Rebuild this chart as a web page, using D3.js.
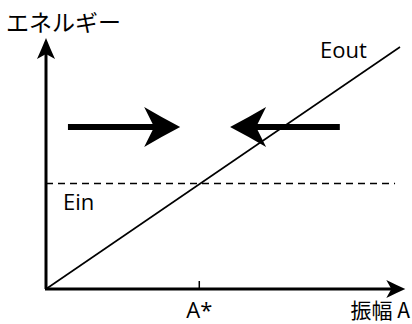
<!DOCTYPE html>
<html>
<head>
<meta charset="utf-8">
<script src="https://cdn.jsdelivr.net/npm/d3@7"></script>
<style>
  body { margin: 0; background: #fff; }
  text { font-family: "Open Sans", "Noto Sans", sans-serif; fill: #000; }
  .jp { font-family: "Noto Sans CJK JP", sans-serif; }
</style>
</head>
<body>
<div id="chart"></div>
<script>
// amplitude / energy values in arbitrary units
var eoutLine = [[0, 0], [10, 10]];
var einLevel = 4.36;
var einExtent = [0, 9.86];
var aStar = 4.33;
var flowArrows = [
  { from: 0.62, to: 3.79, level: 6.69 },
  { from: 8.3, to: 5.2, level: 6.69 }
];
var axisMax = { x: 10.15, y: 10.37 };

var width = 412,
    height = 324,
    x = d3.scaleLinear().domain([0, 10]).range([46, 400]),
    y = d3.scaleLinear().domain([0, 10]).range([289, 47]),
    svg = d3.select('#chart').append('svg').attr('width', width).attr('height', height);

// axes
svg.append('line')
  .attr('x1', x(0)).attr('y1', y(0)).attr('x2', x(0)).attr('y2', y(axisMax.y) + 10)
  .attr('stroke', '#000').attr('stroke-width', 3);
svg.append('line')
  .attr('x1', x(0) - 1).attr('y1', y(0)).attr('x2', x(axisMax.x) - 8).attr('y2', y(0))
  .attr('stroke', '#000').attr('stroke-width', 3);

// arrowheads, swept back with slightly curved edges
function head(tx, ty, angle, len, half, notch) {
  var c = Math.cos(angle), s = Math.sin(angle);
  function t(d) { return [tx + d[0] * c - d[1] * s, ty + d[0] * s + d[1] * c]; }
  var p = d3.path(), q;
  q = t([0, 0]); p.moveTo(q[0], q[1]);
  var c1 = t([-len * 0.5, -half * 0.47]), b1 = t([-len, -half]);
  p.quadraticCurveTo(c1[0], c1[1], b1[0], b1[1]);
  var c2 = t([-len + notch * 0.6, -half * 0.4]), n = t([-len + notch, 0]);
  p.quadraticCurveTo(c2[0], c2[1], n[0], n[1]);
  var c3 = t([-len + notch * 0.6, half * 0.4]), b2 = t([-len, half]);
  p.quadraticCurveTo(c3[0], c3[1], b2[0], b2[1]);
  var c4 = t([-len * 0.5, half * 0.47]);
  p.quadraticCurveTo(c4[0], c4[1], tx, ty);
  p.closePath();
  return p.toString();
}
svg.append('path')
  .attr('d', head(x(0), y(axisMax.y), -Math.PI / 2, 21, 9, 5))
  .attr('fill', '#000');
svg.append('path')
  .attr('d', head(x(axisMax.x), y(0), 0, 19, 9, 5))
  .attr('fill', '#000');

// A* tick
svg.append('line')
  .attr('x1', x(aStar)).attr('x2', x(aStar))
  .attr('y1', y(0)).attr('y2', y(0) - 8)
  .attr('stroke', '#000').attr('stroke-width', 1.5);

// Ein dashed level
svg.append('line')
  .attr('x1', x(einExtent[0])).attr('x2', x(einExtent[1]))
  .attr('y1', y(einLevel)).attr('y2', y(einLevel))
  .attr('stroke', '#000').attr('stroke-width', 1.4)
  .attr('stroke-dasharray', '7,5');

// Eout line
svg.append('path')
  .datum(eoutLine)
  .attr('d', d3.line().x(function (d) { return x(d[0]); }).y(function (d) { return y(d[1]); }))
  .attr('fill', 'none').attr('stroke', '#000').attr('stroke-width', 1.6);

// the two big flow arrows
flowArrows.forEach(function (a) {
  var dir = a.to > a.from ? 1 : -1,
      tip = x(a.to),
      yy = y(a.level);
  svg.append('line')
    .attr('x1', x(a.from)).attr('x2', tip - dir * 24)
    .attr('y1', yy).attr('y2', yy)
    .attr('stroke', '#000').attr('stroke-width', 6);
  svg.append('path')
    .attr('d', head(tip, yy, dir > 0 ? 0 : Math.PI, 36, 20, 10))
    .attr('fill', '#000');
});

// labels
svg.append('text').attr('class', 'jp')
  .attr('x', 6).attr('y', 31).style('font-size', '23px').text('エネルギー');
svg.append('text')
  .attr('x', 320).attr('y', 58).style('font-size', '22px').text('Eout');
svg.append('text')
  .attr('x', 63).attr('y', 210).style('font-size', '22px').text('Ein');
svg.append('text')
  .attr('x', x(aStar)).attr('y', 318).attr('text-anchor', 'middle')
  .style('font-size', '22px').text('A*');
svg.append('text').attr('class', 'jp')
  .attr('x', 410).attr('y', 318).attr('text-anchor', 'end')
  .style('font-size', '21px').text('振幅 A');
</script>
</body>
</html>
